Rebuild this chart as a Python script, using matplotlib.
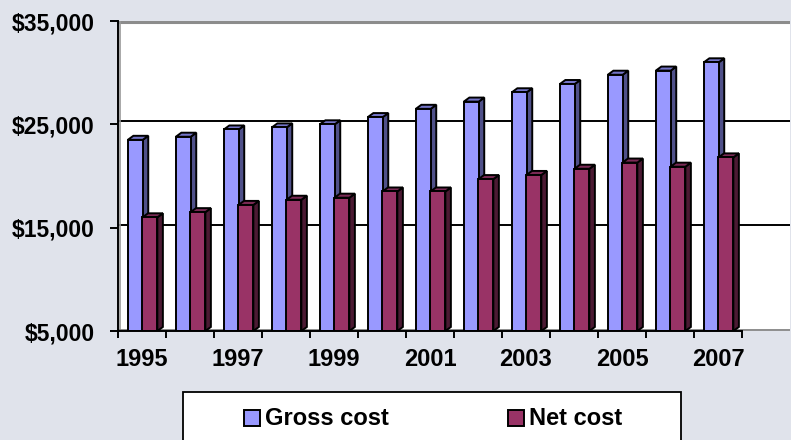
import numpy as np
import matplotlib.pyplot as plt
from matplotlib.patches import Rectangle, Polygon

years = list(range(1995, 2008))
gross_cost = [23500, 23800, 24500, 24700, 25000, 25700, 26500,
              27200, 28100, 28900, 29800, 30200, 31000]
net_cost = [16000, 16500, 17200, 17700, 17900, 18500, 18500,
            19700, 20100, 20700, 21300, 20900, 21800]
series_names = ["Gross cost", "Net cost"]
y_ticks = [5000, 15000, 25000, 35000]

W, H = 791, 440
bg = "#E0E3EB"
front = ["#9999FF", "#993366"]
side = ["#4F5089", "#4C1A33"]
top = ["#7474C8", "#7A2A55"]

font = "Liberation Sans"

fig = plt.figure(figsize=(W / 100, H / 100), dpi=100, facecolor=bg)
# axes box in pixel terms: x 118..790, y 21..331
ax = fig.add_axes([118 / W, 1 - 331 / H, 672 / W, 310 / H])
ax.set_xlim(-0.5, 13.5)
ax.set_ylim(5000, 35000)
ax.set_facecolor("white")

# 3d depth of the columns (about 5.5px right, 4px up)
dx = 0.115
dy = 390
bw = 0.31
offsets = [-0.14, 0.165]
base = 5000

# back wall gridlines and top border
for t in y_ticks[1:-1]:
    ax.axhline(t + dy * 0.75, color="black", lw=1.4, zorder=1)
ax.axhline(35000 - 60, color="#8C8C8C", lw=2.2, zorder=1)
# left wall and floor edges
ax.axvline(-0.5 + dx * 0.35, color="#9A9A9A", lw=1.2, zorder=1)
ax.axhline(base + dy * 0.35, color="#7A7A7A", lw=1.2, zorder=1)

z = 2
for i in range(len(years)):
    for s, vals in enumerate([gross_cost, net_cost]):
        v = vals[i]
        x0 = i + offsets[s] - bw / 2
        x1 = x0 + bw
        side_poly = Polygon([(x1, base), (x1 + dx, base + dy), (x1 + dx, v + dy), (x1, v)],
                            closed=True, facecolor=side[s], edgecolor="black", lw=1.4, zorder=z)
        top_poly = Polygon([(x0, v), (x0 + dx, v + dy), (x1 + dx, v + dy), (x1, v)],
                           closed=True, facecolor=top[s], edgecolor="black", lw=1.4, zorder=z)
        face = Rectangle((x0, base), bw, v - base, facecolor=front[s],
                         edgecolor="black", lw=1.4, zorder=z)
        ax.add_patch(side_poly)
        ax.add_patch(top_poly)
        ax.add_patch(face)
        z += 1

for sp in ["top", "right"]:
    ax.spines[sp].set_visible(False)
ax.spines["left"].set_linewidth(1.4)
ax.spines["bottom"].set_linewidth(1.4)
ax.spines["bottom"].set_bounds(-0.5, 12.5)
ax.spines["left"].set_zorder(50)
ax.spines["bottom"].set_zorder(50)

ax.set_yticks(y_ticks)
ax.set_yticklabels(["${:,}".format(t) for t in y_ticks],
                   fontsize=16.5, fontweight="bold", family=font)
ax.tick_params(axis="y", direction="out", length=6, width=1.4, pad=11)

ax.set_xticks(np.arange(0, len(years), 2))
ax.set_xticklabels([str(y) for y in years[::2]],
                   fontsize=17, fontweight="bold", family=font)
ax.set_xticks(np.arange(-0.5, len(years), 1), minor=True)
ax.tick_params(axis="x", which="major", length=0, pad=12)
ax.tick_params(axis="x", which="minor", direction="out", length=5, width=1.4)

# legend box, drawn by hand since it runs off the bottom edge
def fx(x):
    return x / W


def fy(y):
    return 1 - y / H


fig.patches.append(Rectangle((fx(183), fy(460)), fx(681) - fx(183), fy(392) - fy(460),
                             transform=fig.transFigure, facecolor="white",
                             edgecolor="black", lw=1.3, zorder=5))
leg_x = [244, 508]
for s, name in enumerate(series_names):
    fig.patches.append(Rectangle((fx(leg_x[s]), fy(426)), fx(16), 16 / H,
                                 transform=fig.transFigure, facecolor=front[s],
                                 edgecolor="black", lw=1.4, zorder=6))
    fig.text(fx(leg_x[s] + 21), fy(418), name, fontsize=17, fontweight="bold",
             family=font, va="center", ha="left", zorder=7)

fig.savefig("out.png", dpi=100, facecolor=bg)
